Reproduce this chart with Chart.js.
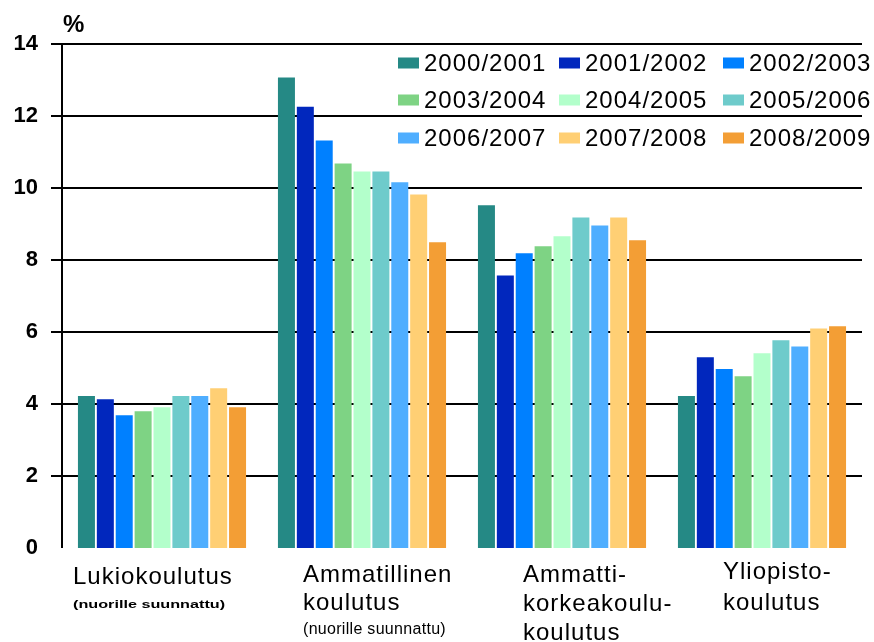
<!DOCTYPE html>
<html lang="fi">
<head>
<meta charset="utf-8">
<title>Keskeyttäneet koulutusasteittain</title>
<script src="https://cdn.jsdelivr.net/npm/chart.js@4/dist/chart.umd.min.js"></script>
<style>
  html, body { margin: 0; padding: 0; background: #fff; }
  #wrap { width: 874px; height: 642px; }
</style>
</head>
<body>
<div id="wrap"><canvas id="chart" width="874" height="642"></canvas></div>
<script>
// Education levels (x categories), each split into the lines shown under the axis
const categories = ['Lukiokoulutus', 'Ammatillinen koulutus', 'Ammattikorkeakoulukoulutus', 'Yliopistokoulutus'];
const categoryLines = [
  ['Lukiokoulutus', '(nuorille suunnattu)'],
  ['Ammatillinen', 'koulutus', '(nuorille suunnattu)'],
  ['Ammatti-', 'korkeakoulu-', 'koulutus'],
  ['Yliopisto-', 'koulutus']
];

// Academic years (series)
const years = ['2000/2001', '2001/2002', '2002/2003', '2003/2004', '2004/2005',
               '2005/2006', '2006/2007', '2007/2008', '2008/2009'];

// Share (%) per academic year, one value per education level
const v2000 = [4.22, 13.07, 9.52, 4.22];
const v2001 = [4.13, 12.26, 7.57, 5.30];
const v2002 = [3.69, 11.32, 8.19, 4.97];
const v2003 = [3.80, 10.68, 8.38, 4.77];
const v2004 = [3.91, 10.46, 8.66, 5.41];
const v2005 = [4.22, 10.46, 9.18, 5.77];
const v2006 = [4.22, 10.16, 8.96, 5.60];
const v2007 = [4.44,  9.82, 9.18, 6.10];
const v2008 = [3.91,  8.49, 8.55, 6.16];
const seriesValues = [v2000, v2001, v2002, v2003, v2004, v2005, v2006, v2007, v2008];

// Y axis ticks
const yTicks = [0, 2, 4, 6, 8, 10, 12, 14];

const colors = ['#258985', '#0127BD', '#0080FF', '#7ED384', '#B3FFCB',
                '#6ECBCB', '#4FAEFF', '#FFCF74', '#F39E35'];

const FONT = '"Liberation Sans", Arial, sans-serif';

// Legend: 3 x 3 grid in the upper right of the plot
const legendLayout = { colX: [398, 559, 723], rowY: [63, 100, 138], boxW: 21, boxH: 11, gap: 5 };

// Category label layout: left offset from category centre, baselines below the plot
const labelLayout = {
  dx: [-89, -59, -39, -39],
  baselines: [[36, 60], [34, 62, 86], [34, 63, 92], [31, 62]]
};
const lineStyle = {
  main: { font: '24px ' + FONT, spacing: '1px', sx: 1 },
  noteSmall: { font: 'bold 10px ' + FONT, spacing: '0px', sx: 1.62 },
  note: { font: '16px ' + FONT, spacing: '0.3px', sx: 1 }
};
const lineKinds = [['main', 'noteSmall'], ['main', 'main', 'note'], ['main', 'main', 'main'], ['main', 'main']];

const gridLegend = {
  id: 'gridLegend',
  afterDatasetsDraw(chart) {
    const ctx = chart.ctx;
    ctx.save();
    ctx.font = '24px ' + FONT;
    ctx.letterSpacing = '1px';
    ctx.textBaseline = 'middle';
    ctx.textAlign = 'left';
    chart.data.datasets.forEach((ds, i) => {
      const x = legendLayout.colX[i % 3];
      const y = legendLayout.rowY[Math.floor(i / 3)];
      ctx.fillStyle = ds.backgroundColor;
      ctx.fillRect(x, y - legendLayout.boxH / 2, legendLayout.boxW, legendLayout.boxH);
      ctx.fillStyle = '#000';
      ctx.fillText(ds.label, x + legendLayout.boxW + legendLayout.gap, y + 1);
    });
    ctx.restore();
  }
};

const categoryText = {
  id: 'categoryText',
  afterDraw(chart) {
    const ctx = chart.ctx;
    const xs = chart.scales.x;
    const bottom = chart.chartArea.bottom;
    ctx.save();
    ctx.fillStyle = '#000';
    ctx.textAlign = 'left';
    ctx.textBaseline = 'alphabetic';
    categoryLines.forEach((lines, i) => {
      const x0 = xs.getPixelForValue(i) + labelLayout.dx[i];
      lines.forEach((txt, j) => {
        const st = lineStyle[lineKinds[i][j]];
        ctx.save();
        ctx.font = st.font;
        ctx.letterSpacing = st.spacing;
        ctx.translate(x0, bottom + labelLayout.baselines[i][j]);
        ctx.scale(st.sx, 1);
        ctx.fillText(txt, 0, 0);
        ctx.restore();
      });
    });
    // unit label above the y axis
    ctx.font = 'bold 24px ' + FONT;
    ctx.letterSpacing = '0px';
    ctx.fillText('%', chart.chartArea.left + 1, 32);
    ctx.restore();
  }
};

new Chart(document.getElementById('chart'), {
  type: 'bar',
  data: {
    labels: categories,
    datasets: years.map((y, i) => ({
      label: y,
      data: seriesValues[i],
      backgroundColor: colors[i],
      borderWidth: 0,
      categoryPercentage: 0.85,
      barPercentage: 0.9
    }))
  },
  options: {
    responsive: false,
    animation: false,
    devicePixelRatio: 1,
    layout: { padding: { top: 44, right: 12, left: 0, bottom: 0 } },
    plugins: {
      legend: { display: false },
      tooltip: { enabled: false }
    },
    scales: {
      x: {
        grid: { display: false },
        border: { display: false },
        ticks: { display: false },
        afterFit(s) { s.height = 94; }
      },
      y: {
        min: 0,
        max: 14,
        afterBuildTicks(s) { s.ticks = yTicks.map(v => ({ value: v })); },
        afterFit(s) { s.width = 62; },
        grid: {
          color: '#000',
          lineWidth: c => (c.tick && c.tick.value === 0 ? 0 : 2),
          tickLength: 11,
          drawTicks: true
        },
        border: { color: '#000', width: 2 },
        ticks: {
          padding: 13,
          color: '#000',
          font: { family: FONT, size: 22, weight: 'bold' }
        }
      }
    }
  },
  plugins: [gridLegend, categoryText]
});
</script>
</body>
</html>
